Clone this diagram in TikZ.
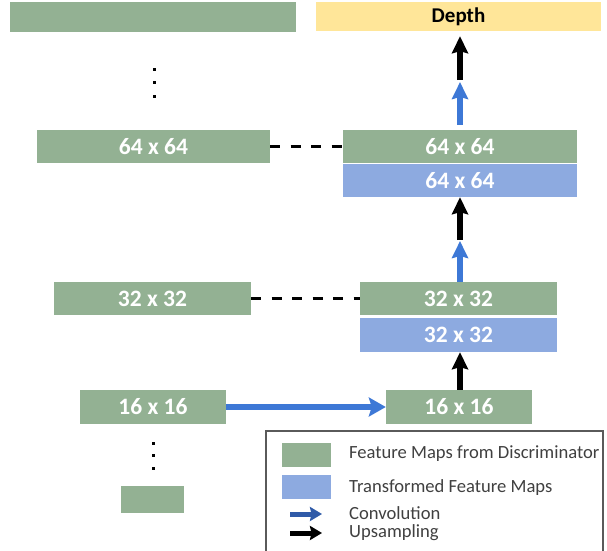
\documentclass[tikz,border=0pt]{standalone}
\usepackage{fontspec}
\setmainfont{Carlito}
\usetikzlibrary{arrows.meta}

\definecolor{fmgreen}{HTML}{93B193}
\definecolor{tfblue}{HTML}{8DAAE0}
\definecolor{depthyel}{HTML}{FFE699}
\definecolor{convblue}{HTML}{3D78D6}
\definecolor{legblue}{HTML}{2F5AA8}
\definecolor{legtext}{HTML}{404040}
\definecolor{legframe}{HTML}{5A5A5A}

\tikzset{
  mapbox/.style={draw=none, inner sep=0pt, text=white,
    font=\fontsize{23.5}{27}\selectfont\bfseries},
  fmbox/.style={mapbox, fill=fmgreen},
  tfbox/.style={mapbox, fill=tfblue},
  upsamp/.style={line width=6pt, black,
    -{Stealth[width=16pt, length=17pt, inset=2pt]}},
  conv/.style={line width=6pt, convblue,
    -{Stealth[width=16pt, length=17pt, inset=2pt]}},
  convh/.style={line width=5.5pt, convblue,
    -{Stealth[width=19pt, length=17pt, inset=3pt]}},
  skip/.style={line width=3pt, black, dash pattern=on 10pt off 10.5pt},
  legswatch/.style={draw=none, inner sep=0pt, minimum width=49pt, minimum height=24pt},
  legtxt/.style={anchor=west, inner sep=0pt, text=legtext,
    font=\fontsize{18.6}{21}\selectfont},
  legarrow/.style={line width=5pt, -{Stealth[width=14pt, length=12pt, inset=1.5pt]}},
  dotmark/.style={fill=black, minimum size=3pt, inner sep=0pt, draw=none}
}

\begin{document}
\begin{tikzpicture}[x=1pt, y=-1pt]
\useasboundingbox (0,0) rectangle (607,550);

% discriminator column (left)
\node[fmbox, minimum width=286pt, minimum height=30pt] (top) at (153,17) {};
\node[fmbox, minimum width=233pt, minimum height=33pt] (L64) at (153.5,146.5) {64 x 64};
\node[fmbox, minimum width=197pt, minimum height=33pt] (L32) at (152.5,298.5) {32 x 32};
\node[fmbox, minimum width=146pt, minimum height=34pt] (L16) at (153,407) {16 x 16};
\node[fmbox, minimum width=63pt, minimum height=27pt] (Lsmall) at (152.5,499.5) {};

% vertical ellipses
\foreach \yy [count=\i] in {69,82.5,96}
  \node[dotmark] (dta\i) at (154,\yy) {};
\foreach \yy [count=\i] in {443,455.5,468}
  \node[dotmark] (dtb\i) at (153,\yy) {};

% depth decoder column (right)
\node[mapbox, fill=depthyel, text=black, minimum width=285pt, minimum height=29pt,
  font=\fontsize{21}{25}\selectfont\bfseries] (depth) at (458.5,16.5) {Depth};
\node[fmbox, minimum width=234pt, minimum height=33pt] (R64g) at (460,146.5) {64 x 64};
\node[tfbox, minimum width=234pt, minimum height=33pt] (R64b) at (460,180.5) {64 x 64};
\node[fmbox, minimum width=197pt, minimum height=33pt] (R32g) at (458.5,298.5) {32 x 32};
\node[tfbox, minimum width=197pt, minimum height=34pt] (R32b) at (458.5,335) {32 x 32};
\node[fmbox, minimum width=146pt, minimum height=34pt] (R16) at (459,407) {16 x 16};

% joints between convolution and upsampling arrows
\coordinate (j1) at (460,80);
\coordinate (j2) at (460,240);

\draw[upsamp, shorten >=5pt] (j1) -- (j1 |- depth.south);
\draw[conv, shorten <=5pt, shorten >=2pt] (j1 |- R64g.north) -- (j1);
\draw[upsamp] (j2) -- (j2 |- R64b.south);
\draw[conv, shorten >=1pt] (j2 |- R32g.north) -- (j2);
\draw[upsamp] (j2 |- R16.north) -- (j2 |- R32b.south);

% skip connections
\draw[skip] (L64.east) -- (R64g.west);
\draw[skip] (L32.east) -- (R32g.west);
\draw[convh] (L16.east) -- (R16.west);

% legend
\draw[legframe, line width=1.5pt] (266,431) rectangle (603,560);
\node[legswatch, fill=fmgreen] (sw1) at (306.5,455) {};
\node[legswatch, fill=tfblue] (sw2) at (306.5,487) {};
\node[legtxt] (t1) at (349,454) {Feature Maps from Discriminator};
\node[legtxt] (t2) at (349,488) {Transformed Feature Maps};
\node[legtxt] (t3) at (349,513) {Convolution};
\node[legtxt] (t4) at (349,533) {Upsampling};
\coordinate (a1s) at (290,514);
\coordinate (a1e) at (322,514);
\coordinate (a2s) at (290,533);
\coordinate (a2e) at (322,533);
\draw[legarrow, legblue] (a1s) -- (a1e);
\draw[legarrow, black] (a2s) -- (a2e);
\end{tikzpicture}
\end{document}
